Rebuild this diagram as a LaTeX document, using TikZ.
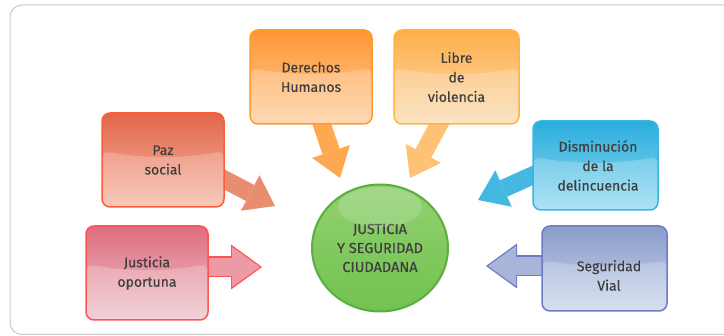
\documentclass[tikz,border=0pt]{standalone}
\usepackage{fontspec}
\setmainfont{Fira Sans}[FakeBold=0.35]
\usetikzlibrary{arrows.meta,shapes,positioning,calc,backgrounds}
\definecolor{textgray}{HTML}{3E3E3E}
\definecolor{framegray}{HTML}{C8C8C8}
\definecolor{dhTop}{HTML}{FF9633}\definecolor{dhBot}{HTML}{FFCFA0}\definecolor{dhLine}{HTML}{FF9A2E}
\definecolor{lvTop}{HTML}{FFAE48}\definecolor{lvBot}{HTML}{FADDB5}\definecolor{lvLine}{HTML}{FFB347}
\definecolor{psTop}{HTML}{E2654A}\definecolor{psBot}{HTML}{F5BBA5}\definecolor{psLine}{HTML}{FF5C3A}
\definecolor{joTop}{HTML}{DE6C7E}\definecolor{joBot}{HTML}{F0C6CD}\definecolor{joLine}{HTML}{FF5252}
\definecolor{ddTop}{HTML}{2AADDD}\definecolor{ddBot}{HTML}{96DAF2}\definecolor{ddLine}{HTML}{3BB4E2}
\definecolor{svTop}{HTML}{899CC9}\definecolor{svBot}{HTML}{CDD7EC}\definecolor{svLine}{HTML}{6C7BC6}
\definecolor{ballTop}{HTML}{92D172}\definecolor{ballBot}{HTML}{72C24E}\definecolor{ballLine}{HTML}{5CAF3E}
\definecolor{dhArrow}{HTML}{FFA852}\definecolor{lvArrow}{HTML}{FFC275}
\definecolor{psArrow}{HTML}{E88D6F}\definecolor{joArrow}{HTML}{EC9AA5}
\definecolor{ddArrow}{HTML}{45B8E2}\definecolor{svArrow}{HTML}{AAB3DA}
\tikzset{
    gloss/.style={path picture={
        \coordinate (gw) at ($(path picture bounding box.north west)!0.40!(path picture bounding box.south west)$);
        \coordinate (ge) at ($(path picture bounding box.north east)!0.40!(path picture bounding box.south east)$);
        \coordinate (gm) at ($(path picture bounding box.north)!0.47!(path picture bounding box.south)$);
        \fill[white, fill opacity=0.22] (gw) parabola bend (gm) (ge) -- (path picture bounding box.south east) -- (path picture bounding box.south west) -- cycle;}},
    box text/.style={align=center, text=textgray, font=\fontsize{14}{19.5}\selectfont},
    raw topic box/.style={rectangle, rounded corners=8pt, line width=1.5pt, minimum width=122pt, minimum height=94pt, inner sep=2pt, box text, gloss},
    t1/.style={raw topic box, draw=dhLine, top color=dhTop, bottom color=dhBot},
    t2/.style={raw topic box, draw=lvLine, top color=lvTop, bottom color=lvBot, minimum width=125pt},
    t3/.style={raw topic box, draw=psLine, top color=psTop, bottom color=psBot},
    t4/.style={raw topic box, draw=joLine, top color=joTop, bottom color=joBot},
    t5/.style={raw topic box, draw=ddLine, top color=ddTop, bottom color=ddBot, minimum width=125pt, minimum height=89pt},
    t6/.style={raw topic box, draw=svLine, top color=svTop, bottom color=svBot, minimum width=125pt, minimum height=85pt},
    center ball/.style={ellipse, draw=ballLine, line width=2pt, top color=ballTop, bottom color=ballBot, minimum width=136pt, minimum height=127pt, inner sep=0pt, align=center, text=textgray, font=\fontsize{14.5}{19}\selectfont},
    big arrow/.style={line width=18pt, -{Triangle[length=28pt, width=40pt, line width=0pt]}},
    rimmed/.style={preaction={draw=#1, line width=21pt, shorten >=-2pt, -{Triangle[length=31pt, width=45pt, line width=0pt]}}}
}
\begin{document}
\begin{tikzpicture}[x=1pt, y=-1pt]
    \useasboundingbox (0,0) rectangle (724,336);
    \draw[framegray, line width=1pt, rounded corners=12pt] (10,5) rectangle (760,334.5);
    \node[t1] (dh) at (311,77) {Derechos\\Humanos};
    \node[t2] (lv) at (456.5,77) {Libre\\de\\violencia};
    \node[t3] (ps) at (163,160) {Paz\\social};
    \node[t4] (jo) at (147,273) {Justicia\\oportuna};
    \node[t5, label={[box text, xshift=2.5pt]center:Disminución\\de la\\delincuencia}] (dd) at (595.5,165.5) {};
    \node[t6, label={[box text, xshift=4.5pt, yshift=-7pt]center:Seguridad\\Vial}] (sv) at (604.5,268.5) {};
    \node[center ball] (jsc) at (380,248) {JUSTICIA\\Y SEGURIDAD\\CIUDADANA};
    \fill[white, fill opacity=0.16] (380,207) ellipse [x radius=42pt, y radius=20pt];
    \coordinate (dh-tip) at (340,178);
    \coordinate (lv-tip) at (410,178);
    \coordinate (ps-tip) at (275,206);
    \coordinate (jo-tip) at (260,267);
    \coordinate (dd-tip) at (478,200);
    \coordinate (sv-tip) at (488,266);
    \begin{scope}[on background layer]
        \draw[big arrow, dhArrow] ($(dh.south)+(9,-6)$) -- (dh-tip);
        \draw[big arrow, lvArrow] ($(lv.south)+(-14.5,-6)$) -- (lv-tip);
        \draw[big arrow, psArrow] ($(ps.east)+(-9,15)$) -- (ps-tip);
        \draw[big arrow, joArrow, rimmed=joLine] ($(jo.east |- jo-tip)+(-8,0)$) -- (jo-tip);
        \draw[big arrow, ddArrow] ($(dd.west)+(8,6.5)$) -- (dd-tip);
        \draw[big arrow, svArrow, rimmed=svLine] ($(sv.west |- sv-tip)+(8,0)$) -- (sv-tip);
    \end{scope}
\end{tikzpicture}
\end{document}
